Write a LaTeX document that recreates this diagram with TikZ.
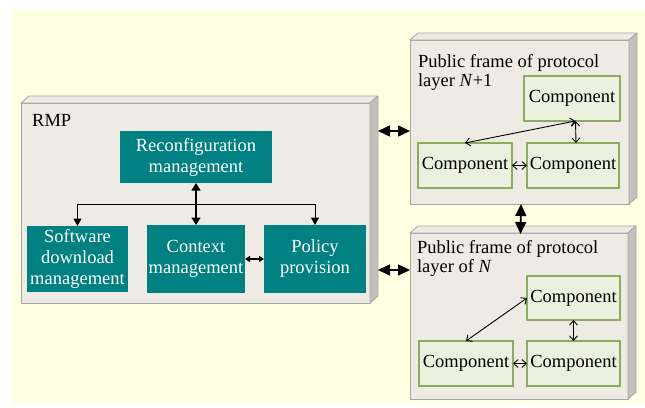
\documentclass[tikz,border=0pt]{standalone}
\usepackage{fontspec}
\setmainfont{Liberation Serif}
\usetikzlibrary{arrows.meta,calc}

\definecolor{cream}{RGB}{255,255,226}
\definecolor{slabfront}{RGB}{238,235,228}
\definecolor{slabside}{RGB}{195,193,187}
\definecolor{slabedge}{RGB}{165,165,165}
\definecolor{tealbox}{RGB}{0,128,128}
\definecolor{compfill}{RGB}{235,241,222}
\definecolor{compedge}{RGB}{141,170,94}

% top and right faces of a raised slab drawn behind node #1
\newcommand\slabfaces[1]{%
  \filldraw[slabtop] (#1.north west) -- ++(8,-7) -- ($(#1.north east)+(8,-7)$) -- (#1.north east) -- cycle;
  \filldraw[slabright] (#1.north east) -- ++(8,-7) -- ($(#1.south east)+(8,-7)$) -- (#1.south east) -- cycle;
}

\tikzset{
  slab/.style={draw=slabedge, fill=slabfront, line width=0.8pt, inner sep=0pt, outer sep=0pt},
  slabtop/.style={draw=slabedge, fill=slabfront, line width=0.8pt, line join=round},
  slabright/.style={draw=slabedge, fill=slabside, line width=0.8pt, line join=round},
  tealnode/.style={fill=tealbox, text=white, inner sep=0pt, outer sep=0pt, align=center,
    font=\fontsize{18.5}{21}\selectfont},
  compnode/.style={draw=compedge, fill=compfill, line width=1.2pt, inner sep=0pt, outer sep=0pt,
    font=\fontsize{18.5}{20}\selectfont},
  titletext/.style={inner sep=0pt, outer sep=0pt, align=left, font=\fontsize{18.5}{19.5}\selectfont},
  bigarrow/.style={line width=1.6pt, {Triangle[length=12pt,width=11pt]}-{Triangle[length=12pt,width=11pt]}},
  busarrow/.style={line width=1pt, -{Triangle[length=7.5pt,width=8pt]}},
  busdouble/.style={line width=1.2pt, {Triangle[length=7.5pt,width=9pt]}-{Triangle[length=7.5pt,width=9pt]}},
  smallarrow/.style={line width=1.2pt, {Triangle[length=5pt,width=6pt]}-{Triangle[length=5pt,width=6pt]}},
  comparrow/.style={line width=0.9pt, {Straight Barb[length=4.5pt,width=8pt]}-{Straight Barb[length=4.5pt,width=8pt]}}
}

\begin{document}
\begin{tikzpicture}[x=1pt,y=-1pt]
\useasboundingbox (0,0) rectangle (645,407);
\fill[cream] (12,10) rectangle (645,404);

% the three slabs
\node[slab, minimum width=349pt, minimum height=200pt] (rmp) at (195.5,203) {};
\slabfaces{rmp}
\node[slab, minimum width=219pt, minimum height=164pt] (fa) at (519.5,122) {};
\slabfaces{fa}
\node[slab, minimum width=218pt, minimum height=166pt] (fb) at (519,316) {};
\slabfaces{fb}

% links between the slabs
\coordinate (ua) at ([shift={(8,28)}]rmp.north east);
\coordinate (la) at ([shift={(8,-33)}]rmp.south east);
\draw[bigarrow] (ua) -- (ua -| fa.west);
\draw[bigarrow] (la) -- (la -| fb.west);
\draw[bigarrow] ([xshift=1.5pt]fa.south) -- ([shift={(1.5,1)}]fb.north);

% RMP contents
\node[inner sep=0pt, anchor=base west, font=\fontsize{18.5}{20}\selectfont] (rmplabel) at (32,126) {RMP};
\node[tealnode, minimum width=152pt, minimum height=52pt] (rc) at (196,157) {Reconfiguration\\management};
\node[tealnode, minimum width=101pt, minimum height=66pt] (sw) at (77.5,259) {Software\\download\\management};
\node[tealnode, minimum width=98pt, minimum height=68pt] (cm) at (196,259) {Context\\management};
\node[tealnode, minimum width=102pt, minimum height=68pt] (pp) at (315,259) {Policy\\provision};

\coordinate (bus) at ([yshift=-21pt]rc.south);
\draw[line width=1pt] (bus -| sw.north) -- (bus -| pp.north);
\draw[busarrow] (bus -| sw.north) -- (sw.north);
\draw[busarrow] (bus -| pp.north) -- (pp.north);
\draw[busdouble] (rc.south) -- (cm.north);
\draw[smallarrow] (cm.east) -- (pp.west);

% protocol layer N+1
\node[titletext, anchor=north west] (tfa) at (418,54.3) {Public frame of protocol\\layer \textit{N}+1};
\node[compnode, minimum width=96pt, minimum height=45pt] (ca) at (572,98.5) {Component};
\node[compnode, minimum width=94pt, minimum height=45pt] (cb) at (465,165.5) {Component};
\node[compnode, minimum width=92pt, minimum height=45pt] (cc) at (573,165.5) {Component};
\draw[comparrow] ([xshift=3.5pt]ca.south) -- (cb.north);
\draw[comparrow] ([xshift=3.5pt]ca.south) -- ([xshift=3pt]cc.north);
\draw[comparrow] (cb.east) -- (cc.west);

% protocol layer N
\node[titletext, anchor=north west] (tfb) at (417,240.3) {Public frame of protocol\\layer of \textit{N}};
\node[compnode, minimum width=93pt, minimum height=44pt] (da) at (573.5,298) {Component};
\node[compnode, minimum width=94pt, minimum height=45pt] (db) at (466,363.5) {Component};
\node[compnode, minimum width=93pt, minimum height=45pt] (dc) at (573.5,363.5) {Component};
\draw[comparrow] (da.west) -- (db.north);
\draw[comparrow] (da.south) -- (dc.north);
\draw[comparrow] (db.east) -- (dc.west);
\end{tikzpicture}
\end{document}
